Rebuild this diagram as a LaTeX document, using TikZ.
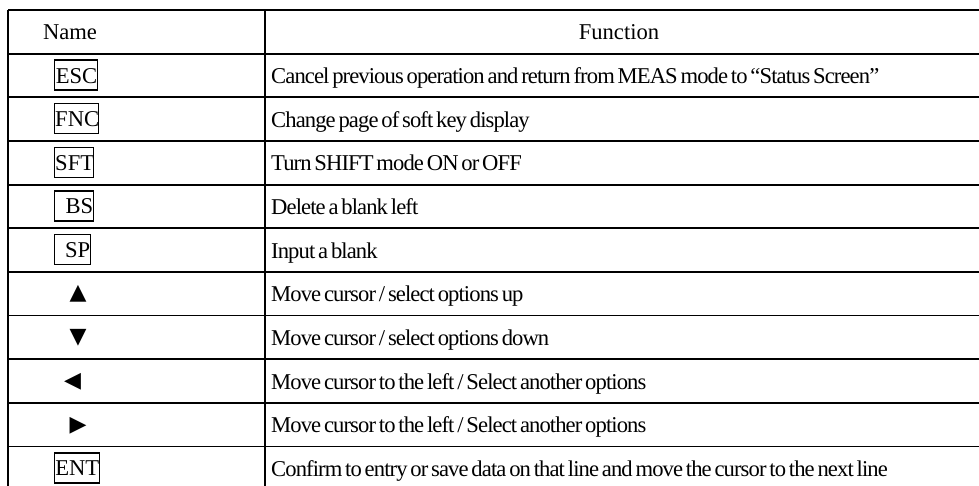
\documentclass[tikz,border=0pt]{standalone}
\usepackage{fontspec}
\setmainfont{Liberation Serif}
\newfontfamily\bodyfont{Liberation Serif}[LetterSpace=-4,WordSpace=0.6]
\newfontfamily\symfont{DejaVu Sans}
\usetikzlibrary{calc}

\begin{document}
\begin{tikzpicture}[x=1pt,y=-1pt,
	head/.style={font=\fontsize{22.6}{26}\selectfont,inner sep=0pt,anchor=base},
	cell/.style={font=\bodyfont\fontsize{22.6}{26}\selectfont,inner sep=0pt,anchor=base west},
	keybox/.style={draw,line width=1.4pt,font=\fontsize{22.6}{26}\selectfont,inner xsep=0.5pt,inner ysep=0pt,
		text height=23pt,text depth=7pt,text width=#1,align=right,anchor=base west},
	arrowkey/.style={font=\symfont\fontsize{22}{26}\selectfont,inner sep=0pt},
	rule/.style={line width=1.8pt}]
	\useasboundingbox (0,0) rectangle (979,485);
	\clip (0,0) rectangle (979,485);

	% table lines
	\foreach \i in {0,...,11}
		\draw[rule] (8,{10+43.65*\i})--(995,{10+43.65*\i});
	\draw[rule] (8,10)--(8,500);
	\draw[rule] (265,10)--(265,500);

	% header
	\node[head] (hname) at (70,39.8) {Name};
	\node[head] (hfunc) at (619,39.8) {Function};

	% keys
	\node[keybox=42pt] (esc) at (54,83) {ESC};
	\node[keybox=43pt] (fnc) at (54,126.6) {FNC};
	\node[keybox=38pt] (sft) at (54,170.3) {SFT};
	\node[keybox=38pt] (bs) at (54,213.9) {BS};
	\node[keybox=35pt] (sp) at (54,257.6) {SP};
	\node[arrowkey] (up) at (78,293.7) {▲};
	\node[arrowkey] (down) at (78,337.4) {▼};
	\node[arrowkey] (left) at (72.5,382) {◀};
	\node[arrowkey] (right) at (78,425.7) {▶};
	\node[keybox=44pt] (ent) at (54,475.8) {ENT};

	% functions
	\node[cell] (fesc) at (271,83.5) {Cancel previous operation and return from MEAS mode to “Status Screen”};
	\node[cell] (ffnc) at (271,127.1) {Change page of soft key display};
	\node[cell] (fsft) at (271,170.8) {Turn SHIFT mode ON or OFF};
	\node[cell] (fbs) at (271,214.4) {Delete a blank left};
	\node[cell] (fsp) at (271,258.1) {Input a blank};
	\node[cell] (fup) at (271,301.7) {Move cursor / select options up};
	\node[cell] (fdown) at (271,345.4) {Move cursor / select options down};
	\node[cell] (fleft) at (271,389.0) {Move cursor to the left / Select another options};
	\node[cell] (fright) at (271,432.7) {Move cursor to the left / Select another options};
	\node[cell] (fent) at (271,476.3) {Confirm to entry or save data on that line and move the cursor to the next line};
\end{tikzpicture}
\end{document}
